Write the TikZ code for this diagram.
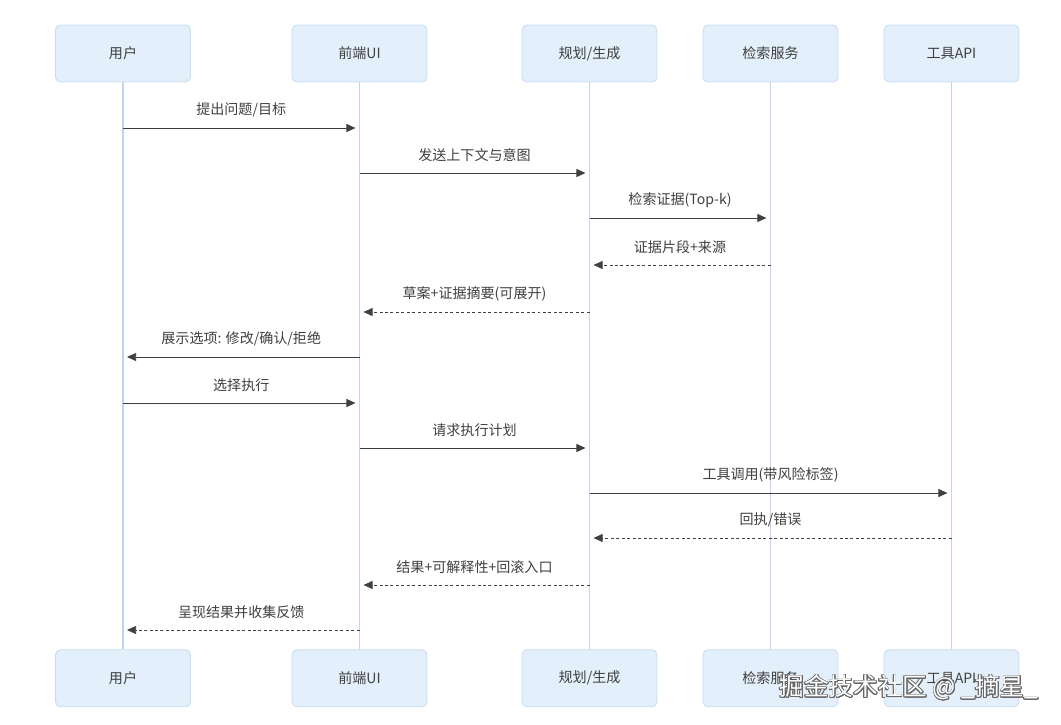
\documentclass[tikz,border=0pt]{standalone}
\usepackage{fontspec}
\setmainfont{Noto Sans CJK SC}
\usepackage{contour}
\usetikzlibrary{arrows.meta}
\usetikzlibrary{positioning}
\definecolor{boxFill}{HTML}{E3EFFA}
\definecolor{boxLine}{HTML}{C8DCF0}
\definecolor{lifeColor}{HTML}{C0D4EC}
\colorlet{penColor}{black!75}
\tikzset{>={Triangle[length=5.2pt,width=4.6pt]},
  actor/.style={draw=boxLine,fill=boxFill,line width=0.5pt,rounded corners=0.1cm,
    minimum width=2.7cm,minimum height=1.14cm,text=penColor,
    font=\fontsize{8pt}{10pt}\selectfont},
  lifeline/.style={draw=lifeColor,line width=1pt},
  msg/.style={draw=penColor,line width=0.5pt,->,shorten >=2.3pt},
  reply/.style={msg,dash pattern=on 1.7pt off 1.4pt},
  msglabel/.style={midway,yshift=0.36cm,text=penColor,
    font=\fontsize{8pt}{10pt}\selectfont}}
\contourlength{0.45pt}

\begin{document}
\begin{tikzpicture}[x=0.02cm,y=-0.02cm]
      \useasboundingbox[fill=white] (0,0) rectangle (1061,724);
      % actors, top row
      \node[actor] (uT) at (123,53.5) {用户};
      \node[actor] (feT) at (359.5,53.5) {前端UI};
      \node[actor] (plT) at (589.5,53.5) {规划/生成};
      \node[actor] (rsT) at (770.5,53.5) {检索服务};
      \node[actor] (tlT) at (951.5,53.5) {工具API};
      % actors, bottom row
      \foreach \a/\t in {u/用户,fe/前端UI,pl/{规划/生成},rs/检索服务,tl/工具API}{
        \node[actor,below=11.34cm of \a T] (\a B) {\t};
        \draw[lifeline] (\a T) -- (\a B);
      }
      % messages
      \foreach \src/\dst/\yy/\txt/\kind [count=\i] in {
          u/fe/128/{提出问题/目标}/msg,
          fe/pl/173/发送上下文与意图/msg,
          pl/rs/218/检索证据(Top-k)/msg,
          rs/pl/265/证据片段+来源/reply,
          pl/fe/312/草案+证据摘要(可展开)/reply,
          fe/u/357/{展示选项: 修改/确认/拒绝}/msg,
          u/fe/403/选择执行/msg,
          fe/pl/448/请求执行计划/msg,
          pl/tl/493/工具调用(带风险标签)/msg,
          tl/pl/538/{回执/错误}/reply,
          pl/fe/585/结果+可解释性+回滚入口/reply,
          fe/u/630/呈现结果并收集反馈/reply}{
        \coordinate (s\i) at (\src T |- 0,\yy);
        \coordinate (e\i) at (\dst T |- 0,\yy);
        \draw[\kind] (s\i) -- node[msglabel] {\txt} (e\i);
      }
      % watermark
      \node[font=\fontsize{14pt}{16pt}\selectfont] (mark) at (909,688)
        {\color{white}\contour{black!60}{掘金技术社区 @ \_摘星\_}};
\end{tikzpicture}
\end{document}
